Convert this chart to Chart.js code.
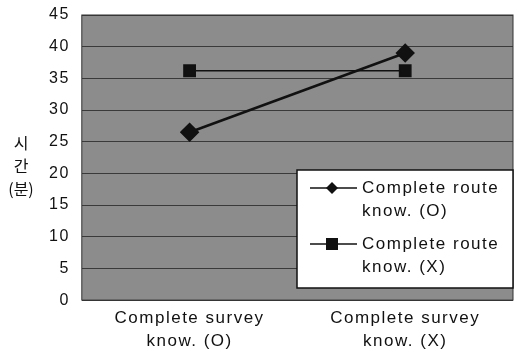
<!DOCTYPE html>
<html>
<head>
<meta charset="utf-8">
<script src="https://cdn.jsdelivr.net/npm/chart.js@4/dist/chart.umd.min.js"></script>
<style>
  html, body { margin: 0; padding: 0; background: #fff; }
  #wrap { width: 518px; height: 360px; }
</style>
</head>
<body>
<div id="wrap"><canvas id="routeChart"></canvas></div>
<script>
const categories = [['Complete survey', 'know. (O)'], ['Complete survey', 'know. (X)']];
const routeKnowO = [26.5, 39];
const routeKnowX = [36.2, 36.2];
const seriesNames = [['Complete route', 'know. (O)'], ['Complete route', 'know. (X)']];
const yTitle = ['시', '간', '(분)'];

const fontFamily = '"Liberation Sans", Arial, sans-serif';
const spacing = '1.5px';

// gray plot background, stacked korean axis title, boxed legend inside the plot
const plotDecor = {
  id: 'plotDecor',
  beforeLayout(chart) {
    chart.ctx.letterSpacing = spacing;
  },
  beforeDraw(chart) {
    const { ctx, chartArea: a } = chart;
    ctx.letterSpacing = spacing;
    ctx.save();
    ctx.fillStyle = '#8c8c8c';
    ctx.fillRect(a.left, a.top, a.right - a.left, a.bottom - a.top);
    ctx.restore();
  },
  afterDraw(chart) {
    const { ctx, chartArea: a } = chart;
    ctx.save();
    ctx.strokeStyle = '#333';
    ctx.lineWidth = 1;
    ctx.strokeRect(a.left, a.top, a.right - a.left, a.bottom - a.top);

    ctx.fillStyle = '#111';
    ctx.letterSpacing = '0px';
    ctx.font = '16px "Noto Sans CJK KR", sans-serif';
    ctx.textAlign = 'center';
    ctx.textBaseline = 'middle';
    yTitle.forEach((t, i) => ctx.fillText(t, 21, 143 + i * 23));

    // legend box
    const bx = 297, by = 170, bw = 216, bh = 118;
    ctx.fillStyle = '#fff';
    ctx.fillRect(bx, by, bw, bh);
    ctx.strokeStyle = '#111';
    ctx.lineWidth = 1.5;
    ctx.strokeRect(bx, by, bw, bh);
    ctx.letterSpacing = spacing;
    ctx.font = '17px ' + fontFamily;
    ctx.textAlign = 'left';
    chart.data.datasets.forEach((ds, i) => {
      const y0 = by + 18 + i * 56;
      ctx.strokeStyle = '#111';
      ctx.lineWidth = 1.5;
      ctx.beginPath();
      ctx.moveTo(bx + 13, y0);
      ctx.lineTo(bx + 60, y0);
      ctx.stroke();
      ctx.fillStyle = '#111';
      const mx = bx + 35;
      if (ds.pointStyle === 'rectRot') {
        ctx.beginPath();
        ctx.moveTo(mx, y0 - 6); ctx.lineTo(mx + 6, y0);
        ctx.lineTo(mx, y0 + 6); ctx.lineTo(mx - 6, y0);
        ctx.closePath(); ctx.fill();
      } else {
        ctx.fillRect(mx - 6, y0 - 6, 12, 12);
      }
      seriesNames[i].forEach((line, k) => ctx.fillText(line, bx + 65, y0 + k * 23));
    });
    ctx.restore();
  }
};

new Chart(document.getElementById('routeChart'), {
  type: 'line',
  data: {
    labels: categories,
    datasets: [
      {
        label: 'Complete route know. (O)',
        data: routeKnowO,
        borderColor: '#111',
        backgroundColor: '#111',
        borderWidth: 2.5,
        pointStyle: 'rectRot',
        pointRadius: 8,
        pointHoverRadius: 8
      },
      {
        label: 'Complete route know. (X)',
        data: routeKnowX,
        borderColor: '#111',
        backgroundColor: '#111',
        borderWidth: 1.5,
        pointStyle: 'rect',
        pointRadius: 8,
        pointHoverRadius: 8
      }
    ]
  },
  options: {
    responsive: true,
    maintainAspectRatio: false,
    animation: false,
    layout: { autoPadding: false, padding: { left: 37, right: 5, top: 4, bottom: 0 } },
    plugins: {
      legend: { display: false },
      tooltip: { enabled: false }
    },
    scales: {
      x: {
        offset: true,
        grid: { display: false, drawTicks: false },
        border: { display: false },
        ticks: {
          color: '#111',
          padding: 7,
          font: { family: fontFamily, size: 17, lineHeight: 1.35 }
        }
      },
      y: {
        min: 0,
        max: 45,
        afterFit(scale) {
          scale.paddingTop = 15;
          scale.paddingBottom = 0;
        },
        grid: { color: '#3a3a3a', lineWidth: 1, drawTicks: false },
        border: { display: false },
        ticks: {
          stepSize: 5,
          color: '#111',
          padding: 12,
          font: { family: fontFamily, size: 16 }
        }
      }
    }
  },
  plugins: [plotDecor]
});
</script>
</body>
</html>
